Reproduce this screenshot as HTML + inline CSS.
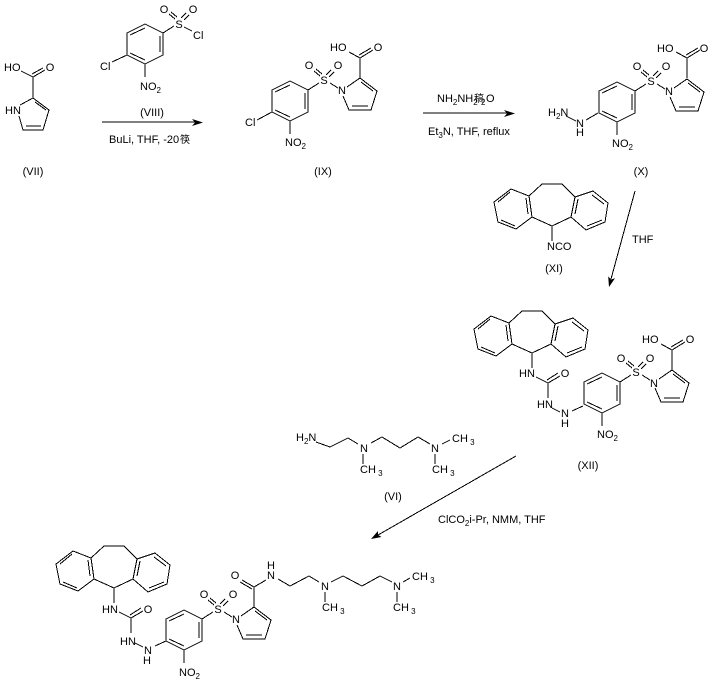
<!DOCTYPE html>
<html>
<head>
<meta charset="utf-8">
<style>
html,body{margin:0;padding:0;background:#fff;width:715px;height:684px;overflow:hidden}
svg{display:block}
text{font-family:"Liberation Sans","Noto Sans CJK SC",sans-serif;font-size:11px;fill:#000}
.m{text-anchor:middle}
tspan.s{font-size:8px}
path{fill:none;stroke:#000;stroke-width:1;shape-rendering:crispEdges}
polygon{fill:#000}
</style>
</head>
<body>
<svg width="715" height="684" viewBox="0 0 715 684" xmlns="http://www.w3.org/2000/svg">
<defs>
<path id="ar" d="M290 81L272 90L272 112L290 121L308 112L308 90Z M275 92L290 85 M305 93L305 109 M275 110L290 117 M290 121L290 134 M308 90L319 83 M314 71L320 76 M316 69L322 74 M331 70L326 75 M334 72L329 77"/>
<path id="py" d="M330 83L338 88 M347 87L360 78L377 91L371 110L349 110L343 96 M361 82L373 91 M352 106L368 106"/>
<path id="acid" d="M360 78L360 58 M349 52L360 58L373 50 M359 55L371 48"/>
<path id="tri" d="M511 189L494 202L498 222L516 229L532 217L529 196Z M529 196L542 184L562 184L575 197 M575 197L593 191L608 203L605 222L586 230L571 217Z M510 192L498 202 M501 220L515 226 M528 214L526 198 M592 195L604 204 M587 226L602 220 M578 199L575 214 M532 217L552 226L571 217 M552 226L552 241"/>
<path id="urea" d="M536 377L548 383L560 376 M547 380L558 373 M548 383L548 398 M552 408L560 412 M572 411L583 406"/>
</defs>

<!-- VII -->
<path d="M21 71L33 77L45 70 M32 74L43 68 M33 77L33 98 M20 105L33 98L49 110L43 130L23 130L19 116 M35 102L46 110 M26 126L41 126"/>
<text x="4" y="71">HO</text>
<text x="50" y="71" class="m">O</text>
<text x="5" y="114">HN</text>
<text x="33" y="175" class="m">(VII)</text>

<!-- VIII -->
<use href="#ar" transform="translate(-145,-57)"/>
<path d="M184 27L192 31 M112 62L127 55"/>
<text x="164" y="13" class="m">O</text>
<text x="193" y="13" class="m">O</text>
<text x="179" y="28" class="m">S</text>
<text x="193" y="39">Cl</text>
<text x="100" y="70">Cl</text>
<text x="140" y="90">NO<tspan class="s" dy="3">2</tspan></text>
<text x="152" y="116" class="m">(VIII)</text>
<path d="M102 122L196 122"/>
<polygon points="203,122.500 192,119 195,122.500 192,126"/>
<text x="109" y="143">BuLi, THF, -20</text>
<text x="180" y="143" style="font-size:10px">筷</text>

<!-- IX -->
<use href="#ar"/>
<use href="#py"/>
<use href="#acid"/>
<path d="M257 120L272 112"/>
<text x="330" y="51">HO</text>
<text x="378" y="51" class="m">O</text>
<text x="309" y="69" class="m">O</text>
<text x="338" y="69" class="m">O</text>
<text x="324" y="84" class="m">S</text>
<text x="342" y="94" class="m">N</text>
<text x="245" y="126">Cl</text>
<text x="285" y="146">NO<tspan class="s" dy="3">2</tspan></text>
<text x="323" y="175" class="m">(IX)</text>

<!-- arrow 2 -->
<text x="437" y="102">NH<tspan class="s" dy="3">2</tspan><tspan dy="-3">NH</tspan><tspan class="s" dy="3">2</tspan></text>
<text x="474" y="102" style="font-size:10px">稿</text>
<text x="481" y="105" style="font-size:8px">2</text>
<text x="486" y="102">O</text>
<path d="M423 113L508 113"/>
<polygon points="515,113.500 504,110 507,113.500 504,117"/>
<text x="428" y="135">Et<tspan class="s" dy="3">3</tspan><tspan dy="-3">N, THF, reflux</tspan></text>

<!-- X -->
<use href="#ar" transform="translate(327,1)"/>
<use href="#py" transform="translate(327,1)"/>
<use href="#acid" transform="translate(327,0)"/>
<path d="M566 116L576 121 M586 120L598 113"/>
<text x="657" y="52">HO</text>
<text x="704" y="52" class="m">O</text>
<text x="637" y="70" class="m">O</text>
<text x="666" y="70" class="m">O</text>
<text x="651" y="85" class="m">S</text>
<text x="669" y="95" class="m">N</text>
<text x="548" y="116">H<tspan class="s" dy="3">2</tspan><tspan dy="-3">N</tspan></text>
<text x="580" y="127" class="m">N</text>
<text x="580" y="136" class="m">H</text>
<text x="612" y="147">NO<tspan class="s" dy="3">2</tspan></text>
<text x="641" y="175" class="m">(X)</text>

<!-- XI -->
<use href="#tri"/>
<text x="547" y="250">NCO</text>
<text x="554" y="272" class="m">(XI)</text>

<!-- arrow THF -->
<path d="M635 191L611 279"/>
<polygon points="609,287 615,278.200 611,279.500 608.200,276.400"/>
<text x="632" y="243">THF</text>

<!-- XII -->
<use href="#tri" transform="translate(-20,127)"/>
<use href="#urea"/>
<use href="#ar" transform="translate(312,292)"/>
<use href="#py" transform="translate(312,292)"/>
<use href="#acid" transform="translate(312,292)"/>
<text x="519" y="377">HN</text>
<text x="565" y="377" class="m">O</text>
<text x="537" y="408">HN</text>
<text x="565" y="417" class="m">N</text>
<text x="565" y="427" class="m">H</text>
<text x="642" y="343">HO</text>
<text x="690" y="343" class="m">O</text>
<text x="621" y="362" class="m">O</text>
<text x="650" y="362" class="m">O</text>
<text x="636" y="376" class="m">S</text>
<text x="654" y="387" class="m">N</text>
<text x="597" y="438">NO<tspan class="s" dy="3">2</tspan></text>
<text x="588" y="469" class="m">(XII)</text>

<!-- VI -->
<path d="M316 442L330 447L348 438L358 444 M371 443L382 437L400 448L418 437L430 444 M442 444L450 440 M363 454L363 464 M435 454L435 464"/>
<text x="296" y="441">H<tspan class="s" dy="3">2</tspan><tspan dy="-3">N</tspan></text>
<text x="364" y="452" class="m">N</text>
<text x="435" y="452" class="m">N</text>
<text x="452" y="442">CH<tspan class="s" dy="3"> 3</tspan></text>
<text x="360" y="473">CH<tspan class="s" dy="3"> 3</tspan></text>
<text x="432" y="473">CH<tspan class="s" dy="3"> 3</tspan></text>
<text x="393" y="500" class="m">(VI)</text>

<!-- arrow 3 -->
<path d="M516 456L378 535"/>
<polygon points="371,539 381.400,537 378,534.800 378,531"/>
<text x="438" y="523">ClCO<tspan class="s" dy="3">2</tspan><tspan dy="-3">i-Pr, NMM, THF</tspan></text>

<!-- final product -->
<use href="#tri" transform="translate(-438,362)"/>
<use href="#urea" transform="translate(-417,235)"/>
<use href="#ar" transform="translate(-106,529)"/>
<use href="#py" transform="translate(-106,529)"/>
<path d="M254 607L254 587L266 580 M254 587L242 580 M252 589L240 582 M278 579L290 586L309 576L319 582 M331 582L343 576L362 586L380 576L392 582 M403 582L410 578 M325 592L325 602 M397 592L397 602"/>
<text x="102" y="613">HN</text>
<text x="148" y="613" class="m">O</text>
<text x="120" y="645">HN</text>
<text x="148" y="654" class="m">N</text>
<text x="147" y="664" class="m">H</text>
<text x="204" y="598" class="m">O</text>
<text x="233" y="598" class="m">O</text>
<text x="218" y="613" class="m">S</text>
<text x="236" y="623" class="m">N</text>
<text x="179" y="676">NO<tspan class="s" dy="3">2</tspan></text>
<text x="235" y="579" class="m">O</text>
<text x="271" y="579" class="m">N</text>
<text x="271" y="569" class="m">H</text>
<text x="325" y="590" class="m">N</text>
<text x="397" y="590" class="m">N</text>
<text x="412" y="580">CH<tspan class="s" dy="3"> 3</tspan></text>
<text x="322" y="611">CH<tspan class="s" dy="3"> 3</tspan></text>
<text x="393" y="611">CH<tspan class="s" dy="3"> 3</tspan></text>
</svg>
</body>
</html>
